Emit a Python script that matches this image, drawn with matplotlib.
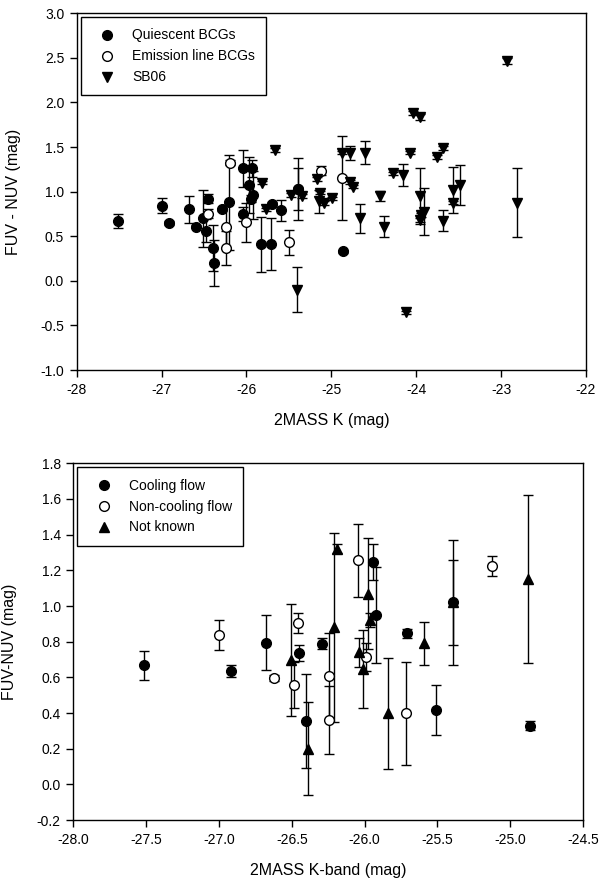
import matplotlib
matplotlib.use("Agg")
import matplotlib.pyplot as plt

plt.rcParams["font.family"] = ["Liberation Sans", "DejaVu Sans"]
plt.rcParams["axes.unicode_minus"] = False

# ---- top panel: FUV-NUV vs 2MASS K ----
quiescent_k = [-27.51, -27.00, -26.91, -26.68, -26.60, -26.51, -26.475, -26.455,
               -26.39, -26.38, -26.29, -26.20, -26.035, -26.035, -25.97, -25.94,
               -25.925, -25.95, -25.83, -25.71, -25.70, -25.59, -25.39, -25.39,
               -24.86]
quiescent_c = [0.67, 0.84, 0.645, 0.80, 0.607, 0.70, 0.56, 0.92,
               0.365, 0.20, 0.80, 0.88, 1.262, 0.75, 1.075, 1.26,
               0.96, 0.92, 0.41, 0.41, 0.86, 0.79, 1.03, 1.03,
               0.33]
quiescent_e = [0.08, 0.085, 0.02, 0.155, 0.02, 0.32, 0.13, 0.05,
               0.26, 0.26, 0.02, 0.53, 0.205, 0.08, 0.31, 0.10,
               0.27, 0.04, 0.31, 0.29, 0.02, 0.12, 0.35, 0.24,
               0.02]

emission_k = [-26.45, -26.24, -26.24, -26.19, -26.00, -25.50, -25.12, -24.87]
emission_c = [0.75, 0.607, 0.365, 1.325, 0.656, 0.43, 1.235, 1.15]
emission_e = [0.05, 0.24, 0.19, 0.03, 0.22, 0.14, 0.05, 0.47]

sb06_k = [-25.82, -25.66, -25.77, -25.41, -25.48, -25.35, -25.17, -25.13,
          -25.15, -25.09, -24.99, -24.87, -24.785, -24.60, -24.78, -24.75,
          -24.667, -24.43, -24.384, -24.27, -24.16, -24.125, -24.07, -24.04,
          -23.95, -23.96, -23.94, -23.91, -23.95, -23.75, -23.69, -23.68,
          -23.57, -23.57, -23.49, -22.93, -22.81]
sb06_c = [1.10, 1.467, 0.80, -0.10, 0.96, 0.95, 1.14, 0.99,
          0.89, 0.87, 0.925, 1.437, 1.43, 1.437, 1.11, 1.056,
          0.70, 0.95, 0.607, 1.205, 1.19, -0.353, 1.437, 1.88,
          1.835, 0.95, 0.738, 0.775, 0.68, 1.385, 1.486, 0.675,
          1.02, 0.876, 1.075, 2.465, 0.876]
sb06_e = [0.02, 0.02, 0.02, 0.25, 0.02, 0.02, 0.02, 0.02,
          0.13, 0.02, 0.02, 0.02, 0.08, 0.13, 0.02, 0.02,
          0.165, 0.06, 0.12, 0.02, 0.125, 0.02, 0.02, 0.02,
          0.03, 0.31, 0.02, 0.26, 0.02, 0.02, 0.02, 0.12,
          0.26, 0.02, 0.22, 0.03, 0.39]

top_xticks = [-28, -27, -26, -25, -24, -23, -22]
top_yticks = [-1.0, -0.5, 0.0, 0.5, 1.0, 1.5, 2.0, 2.5, 3.0]

# ---- bottom panel: by cooling-flow status ----
cool_k = [-27.515, -26.92, -26.68, -26.45, -26.405, -26.295, -25.94, -25.92,
          -25.707, -25.513, -25.392, -24.866]
cool_c = [0.667, 0.637, 0.795, 0.736, 0.356, 0.788, 1.247, 0.948,
          0.846, 0.416, 1.02, 0.328]
cool_e = [0.08, 0.035, 0.155, 0.045, 0.265, 0.03, 0.10, 0.27,
          0.025, 0.14, 0.24, 0.025]

noncool_k = [-27.0, -26.62, -26.485, -26.46, -26.243, -26.243, -26.044, -25.99,
             -25.716, -25.128]
noncool_c = [0.836, 0.595, 0.556, 0.905, 0.607, 0.36, 1.257, 0.715,
             0.398, 1.225]
noncool_e = [0.085, 0.018, 0.13, 0.056, 0.24, 0.19, 0.205, 0.08,
             0.29, 0.055]

unknown_k = [-26.505, -26.387, -26.21, -26.19, -26.037, -26.008, -25.977, -25.96,
             -25.838, -25.595, -25.392, -24.877]
unknown_c = [0.696, 0.20, 0.88, 1.322, 0.74, 0.648, 1.07, 0.92,
             0.398, 0.79, 1.02, 1.15]
unknown_e = [0.315, 0.26, 0.53, 0.025, 0.08, 0.22, 0.31, 0.04,
             0.31, 0.12, 0.35, 0.47]

bot_xticks = [-28.0, -27.5, -27.0, -26.5, -26.0, -25.5, -25.0, -24.5]
bot_yticks = [-0.2, 0.0, 0.2, 0.4, 0.6, 0.8, 1.0, 1.2, 1.4, 1.6, 1.8]

fig = plt.figure(figsize=(6.02, 8.81), dpi=100)
ax1 = fig.add_axes([0.1274, 0.580, 0.846, 0.405])
ax2 = fig.add_axes([0.1218, 0.0692, 0.8467, 0.4049])

EB = dict(ls="none", ecolor="black", elinewidth=1.0, capsize=3.6,
          capthick=1.0, markeredgecolor="black", markeredgewidth=1.0)


def style(ax, xt, yt, xfmt, yfmt, xlabel, ylabel):
    ax.set_xticks(xt)
    ax.set_yticks(yt)
    ax.set_xticklabels([xfmt.format(v) for v in xt])
    ax.set_yticklabels([yfmt.format(v) for v in yt])
    ax.set_xlim(xt[0], xt[-1])
    ax.set_ylim(yt[0], yt[-1])
    ax.tick_params(direction="out", length=5, width=1.0, labelsize=10,
                   top=False, right=False, pad=4)
    for sp in ax.spines.values():
        sp.set_linewidth(1.0)
    ax.set_xlabel(xlabel, fontsize=11.5, labelpad=12)
    ax.set_ylabel(ylabel, fontsize=11.5, labelpad=14)


ax1.errorbar(quiescent_k, quiescent_c, yerr=quiescent_e, marker="o", ms=7,
             mfc="black", label="Quiescent BCGs", **EB)
ax1.errorbar(emission_k, emission_c, yerr=emission_e, marker="o", ms=7,
             mfc="white", label="Emission line BCGs", **EB)
ax1.errorbar(sb06_k, sb06_c, yerr=sb06_e, marker="v", ms=7.5,
             mfc="black", label="SB06", **EB)
style(ax1, top_xticks, top_yticks, "{:.0f}", "{:.1f}",
      "2MASS K (mag)", "FUV - NUV (mag)")

ax2.errorbar(cool_k, cool_c, yerr=cool_e, marker="o", ms=7,
             mfc="black", label="Cooling flow", **EB)
ax2.errorbar(noncool_k, noncool_c, yerr=noncool_e, marker="o", ms=7,
             mfc="white", label="Non-cooling flow", **EB)
ax2.errorbar(unknown_k, unknown_c, yerr=unknown_e, marker="^", ms=7.5,
             mfc="black", label="Not known", **EB)
style(ax2, bot_xticks, bot_yticks, "{:.1f}", "{:.1f}",
      "2MASS K-band (mag)", "FUV-NUV (mag)")

for ax in (ax1, ax2):
    handles, labels = ax.get_legend_handles_labels()
    handles = [h[0] for h in handles]
    leg = ax.legend(handles, labels, loc="upper left", fontsize=10,
                    frameon=True, fancybox=False, edgecolor="black",
                    framealpha=1, borderpad=0.8, handlelength=2.2,
                    handletextpad=0.7, borderaxespad=0.3, labelspacing=0.5)
    leg.get_frame().set_linewidth(1.0)

fig.savefig("out.png", dpi=100, facecolor="white")
